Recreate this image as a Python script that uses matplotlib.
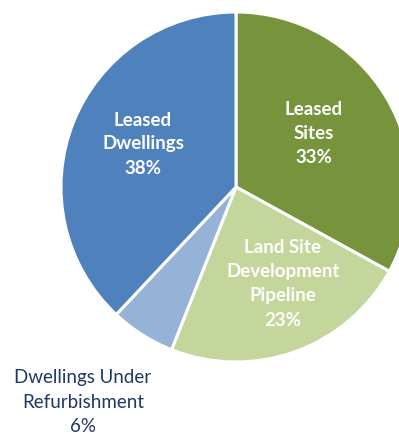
import matplotlib.pyplot as plt

categories = ["Leased Sites", "Land Site\nDevelopment\nPipeline", "Dwellings Under\nRefurbishment", "Leased\nDwellings"]
shares = [33, 23, 6, 38]
colors = ["#77933C", "#C3D69B", "#95B3D7", "#4F81BD"]

W, H = 399, 434
cx, cy, R = 236, 187, 175  # pie centre / radius in pixels (from top-left)

fig = plt.figure(figsize=(W / 100, H / 100), dpi=100)
ax = fig.add_axes([0, 0, 1, 1])
ax.pie(shares, colors=colors, startangle=90, counterclock=False, radius=1,
       wedgeprops=dict(edgecolor="white", linewidth=2.2))
ax.set_xlim(-cx / R, (W - cx) / R)
ax.set_ylim(-(H - cy) / R, cy / R)
ax.set_aspect("equal")
ax.axis("off")

def px(x, y):
    return (x - cx) / R, (cy - y) / R

font = dict(family=["Lato", "DejaVu Sans"], fontsize=13.5, ha="center", va="center", linespacing=1.5)
# label positions in pixels
ax.text(*px(314, 134), "Leased\nSites\n%d%%" % shares[0], color="white", fontweight="bold", **font)
ax.text(*px(283, 284), "Land Site\nDevelopment\nPipeline\n%d%%" % shares[1], color="white", fontweight="bold", **font)
ax.text(*px(83, 402), "%s\n%d%%" % (categories[2], shares[2]), color="#1F3864", **font)
ax.text(*px(143, 144), "%s\n%d%%" % (categories[3], shares[3]), color="white", fontweight="bold", **font)

fig.savefig("out.png", dpi=100)
